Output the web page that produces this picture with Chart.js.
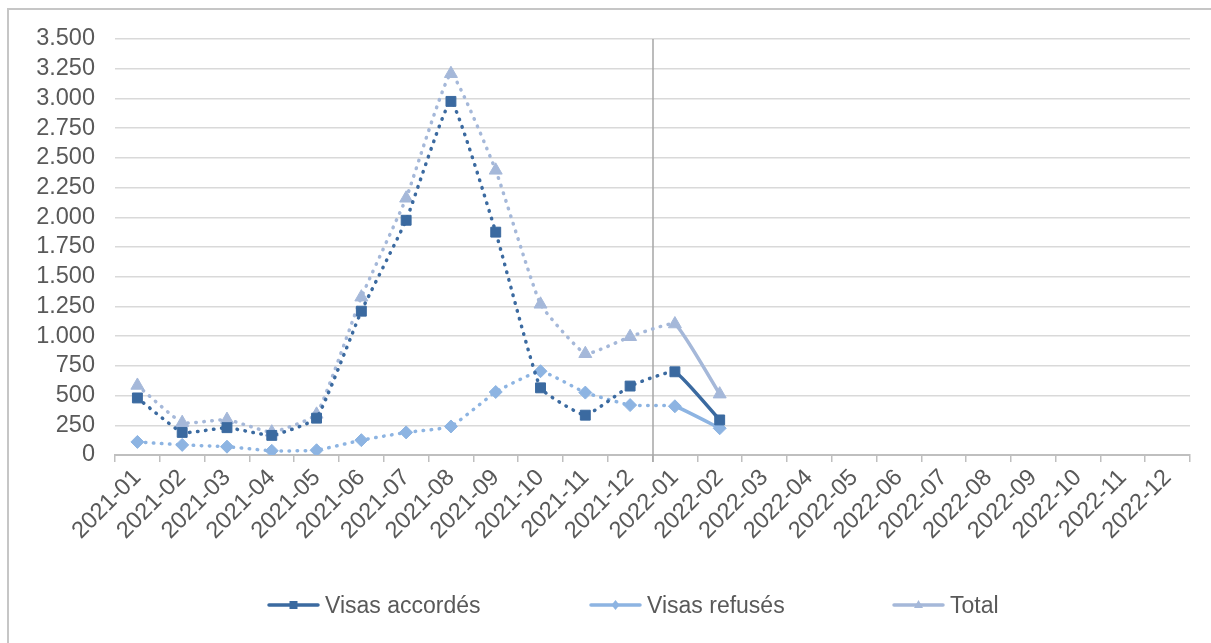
<!DOCTYPE html>
<html>
<head>
<meta charset="utf-8">
<script src="https://cdn.jsdelivr.net/npm/chart.js@4.4.1/dist/chart.umd.min.js"></script>
<style>
    html, body { margin: 0; padding: 0; background: #fff; }
    #wrap { position: relative; width: 1211px; height: 643px; overflow: hidden; }
    #frame { position: absolute; left: 7px; top: 8px; width: 1220px; height: 660px;
             border-top: 2px solid #c6c6c6; border-left: 2px solid #c6c6c6; }
    canvas#chart { position: absolute; left: 0; top: 0; }
    .leg { position: absolute; top: 590px; height: 30px; display: flex; align-items: center;
           font-family: "Liberation Sans", Arial, sans-serif; font-size: 23px; color: #595959; }
    .leg canvas { margin-right: 4px; }
</style>
</head>
<body>
<div id="wrap">
    <div id="frame"></div>
    <canvas id="chart" width="1211" height="643"></canvas>
    <div class="leg" style="left:266px"><canvas id="sw0" width="55" height="20"></canvas><span>Visas accordés</span></div>
    <div class="leg" style="left:588px"><canvas id="sw1" width="55" height="20"></canvas><span>Visas refusés</span></div>
    <div class="leg" style="left:891px"><canvas id="sw2" width="55" height="20"></canvas><span>Total</span></div>
</div>
<script>
// Données
const mois = ['2021-01', '2021-02', '2021-03', '2021-04', '2021-05', '2021-06',
              '2021-07', '2021-08', '2021-09', '2021-10', '2021-11', '2021-12',
              '2022-01', '2022-02', '2022-03', '2022-04', '2022-05', '2022-06',
              '2022-07', '2022-08', '2022-09', '2022-10', '2022-11', '2022-12'];
const visasAccordes = [480, 190, 230, 165, 310, 1210, 1975, 2975, 1875, 565, 335, 580, 700, 295,
                       null, null, null, null, null, null, null, null, null, null];
const visasRefuses = [110, 85, 70, 35, 40, 125, 190, 240, 530, 705, 525, 420, 410, 225,
                      null, null, null, null, null, null, null, null, null, null];
const visasTotal = [585, 272, 298, 192, 342, 1328, 2160, 3208, 2395, 1268, 852, 995, 1102, 512,
                    null, null, null, null, null, null, null, null, null, null];
const yTicksMax = 3500;
const yTicksStep = 250;

const COL_ACC = '#3b6aa0';
const COL_REF = '#8db4e2';
const COL_TOT = '#a5b8d9';
const FONT = '"Liberation Sans", Arial, sans-serif';
const DOTS = [0.5, 7.5];

// pointillés jusqu'à 2022-01, trait plein ensuite
const seg = {
    borderDash: ctx => ctx.p0DataIndex >= 12 ? [] : DOTS
};

function fmt(v) {
    return String(v).replace(/\B(?=(\d{3})+(?!\d))/g, '.');
}

// ligne verticale entre 2021-12 et 2022-01
const yearLine = {
    id: 'yearLine',
    beforeDatasetsDraw(chart) {
        const x = chart.scales.x;
        const area = chart.chartArea;
        const px = Math.round((x.getPixelForValue(11) + x.getPixelForValue(12)) / 2);
        const ctx = chart.ctx;
        ctx.save();
        ctx.strokeStyle = '#a6a6a6';
        ctx.lineWidth = 1.5;
        ctx.beginPath();
        ctx.moveTo(px, area.top);
        ctx.lineTo(px, area.bottom + 7);
        ctx.stroke();
        ctx.restore();
    }
};

new Chart(document.getElementById('chart'), {
    type: 'line',
    data: {
        labels: mois,
        datasets: [
            {
                label: 'Visas accordés',
                data: visasAccordes,
                borderColor: COL_ACC,
                backgroundColor: COL_ACC,
                borderWidth: 3.5,
                borderCapStyle: 'round',
                pointStyle: 'rect',
                pointRadius: 7,
                pointBorderWidth: 1,
                pointBorderColor: COL_ACC,
                pointBackgroundColor: COL_ACC,
                tension: 0.12,
                segment: seg
            },
            {
                label: 'Visas refusés',
                data: visasRefuses,
                borderColor: COL_REF,
                backgroundColor: COL_REF,
                borderWidth: 3.5,
                borderCapStyle: 'round',
                pointStyle: 'rectRot',
                pointRadius: 6.5,
                pointBorderWidth: 1,
                pointBorderColor: COL_REF,
                pointBackgroundColor: COL_REF,
                tension: 0.12,
                segment: seg
            },
            {
                label: 'Total',
                data: visasTotal,
                borderColor: COL_TOT,
                backgroundColor: COL_TOT,
                borderWidth: 3.5,
                borderCapStyle: 'round',
                pointStyle: 'triangle',
                pointRadius: 7.5,
                pointBorderWidth: 1,
                pointBorderColor: COL_TOT,
                pointBackgroundColor: COL_TOT,
                tension: 0.12,
                segment: seg
            }
        ]
    },
    options: {
        responsive: false,
        animation: false,
        layout: { padding: { left: 8, right: 21, top: 39, bottom: 68 } },
        plugins: {
            legend: { display: false },
            tooltip: { enabled: false }
        },
        scales: {
            x: {
                offset: true,
                grid: {
                    offset: true,
                    drawOnChartArea: false,
                    drawTicks: true,
                    tickLength: 7,
                    color: '#bfbfbf',
                    lineWidth: 1.5
                },
                border: { color: '#bfbfbf', width: 2 },
                ticks: {
                    autoSkip: false,
                    maxRotation: 45,
                    minRotation: 45,
                    padding: 2,
                    color: '#595959',
                    font: { family: FONT, size: 23.5 }
                },
                afterFit(scale) { scale.height = 120; }
            },
            y: {
                min: 0,
                max: yTicksMax,
                ticks: {
                    stepSize: yTicksStep,
                    autoSkip: false,
                    padding: 20,
                    color: '#595959',
                    font: { family: FONT, size: 23.5 },
                    callback: v => fmt(v)
                },
                grid: { color: '#d9d9d9', lineWidth: 1.5, drawTicks: false },
                border: { display: false },
                afterFit(scale) { scale.width = 107; }
            }
        }
    },
    plugins: [yearLine]
});

// échantillons de légende
function swatch(id, color, shape) {
    const c = document.getElementById(id);
    const ctx = c.getContext('2d');
    ctx.strokeStyle = color;
    ctx.fillStyle = color;
    ctx.lineWidth = 3.5;
    ctx.lineCap = 'round';
    ctx.beginPath();
    ctx.moveTo(3, 10);
    ctx.lineTo(52, 10);
    ctx.stroke();
    ctx.beginPath();
    if (shape === 'rect') {
        ctx.rect(23.5, 6, 8, 8);
    } else if (shape === 'diamond') {
        ctx.moveTo(27.5, 5); ctx.lineTo(31.5, 10); ctx.lineTo(27.5, 15); ctx.lineTo(23.5, 10);
    } else {
        ctx.moveTo(27.5, 5); ctx.lineTo(32, 13); ctx.lineTo(23, 13);
    }
    ctx.closePath();
    ctx.fill();
}
swatch('sw0', COL_ACC, 'rect');
swatch('sw1', COL_REF, 'diamond');
swatch('sw2', COL_TOT, 'triangle');
</script>
</body>
</html>
